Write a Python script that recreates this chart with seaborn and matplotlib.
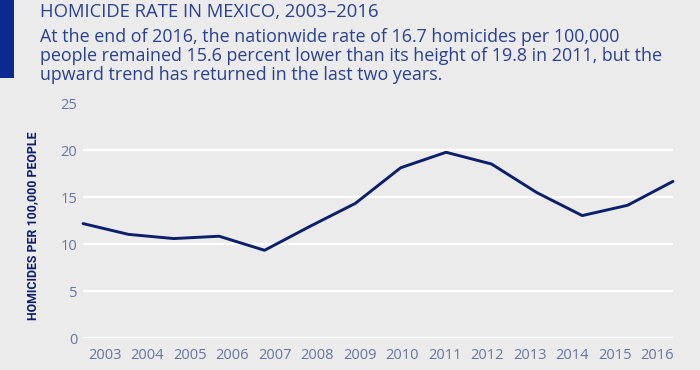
import numpy as np
import pandas as pd
import matplotlib.pyplot as plt
import seaborn as sns

# Homicide rate per 100,000 people
years = [2003, 2004, 2005, 2006, 2007, 2008, 2009,
         2010, 2011, 2012, 2013, 2014, 2015, 2016]
rates = [12.2, 11.05, 10.6, 10.85, 9.35, 11.9, 14.35,
         18.15, 19.8, 18.55, 15.5, 13.05, 14.15, 16.7]
y_ticks = [0, 5, 10, 15, 20, 25]

title = "HOMICIDE RATE IN MEXICO, 2003\u20132016"
subtitle = ["At the end of 2016, the nationwide rate of 16.7 homicides per 100,000",
            "people remained 15.6 percent lower than its height of 19.8 in 2011, but the",
            "upward trend has returned in the last two years."]
y_label = "HOMICIDES PER 100,000 PEOPLE"

df = pd.DataFrame({"year": years, "rate": rates})

bg = "#ebebeb"
navy = "#0c1f6b"
text_blue = "#2a4190"
tick_col = "#6675a3"

sns.set_theme(style="whitegrid")
plt.rcParams["font.family"] = ["Open Sans", "DejaVu Sans"]

W, H = 700, 370
fig = plt.figure(figsize=(7, 3.7), dpi=100, facecolor=bg)
# axes spans x 83..673 px, y 103.5..338 px
ax = fig.add_axes([83 / W, 1 - 338 / H, 590 / W, 234.5 / H], facecolor=bg)

sns.lineplot(data=df, x="year", y="rate", ax=ax, color=navy, linewidth=2.1,
             clip_on=False, zorder=3)

ax.set_xlim(2003, 2016)
ax.set_ylim(0, 25)
ax.set_yticks(y_ticks)
# year labels sit slightly right of their points in the original, and closer together
ax.set_xticks(np.linspace(2003.48, 2015.65, len(years)))
ax.set_xticklabels([str(y) for y in years])
ax.grid(axis="y", color="white", linewidth=1.6)
ax.grid(axis="x", visible=False)
for s in ax.spines.values():
    s.set_visible(False)
ax.tick_params(axis="both", colors=tick_col, labelsize=10.5, length=0)
ax.tick_params(axis="y", pad=4)
ax.tick_params(axis="x", pad=7)
ax.set_xlabel("")
ax.set_ylabel(y_label, fontsize=8.9, fontweight="bold", color=navy,
              family=["Roboto", "DejaVu Sans"])
ax.yaxis.set_label_coords(-0.075, 0.478)

# left accent bar
fig.add_artist(plt.Rectangle((0, 1 - 78 / H), 14 / W, 78 / H,
                             transform=fig.transFigure, color="#0b2a8f", lw=0))

fig.text(40 / W, 1 - 17 / H, title, fontsize=13.3, color=text_blue,
         va="baseline", ha="left")
for i, line in enumerate(subtitle):
    fig.text(40 / W, 1 - (42 + 19 * i) / H, line, fontsize=12.9, color=text_blue,
             va="baseline", ha="left")

plt.savefig("out.png", dpi=100, facecolor=bg)
